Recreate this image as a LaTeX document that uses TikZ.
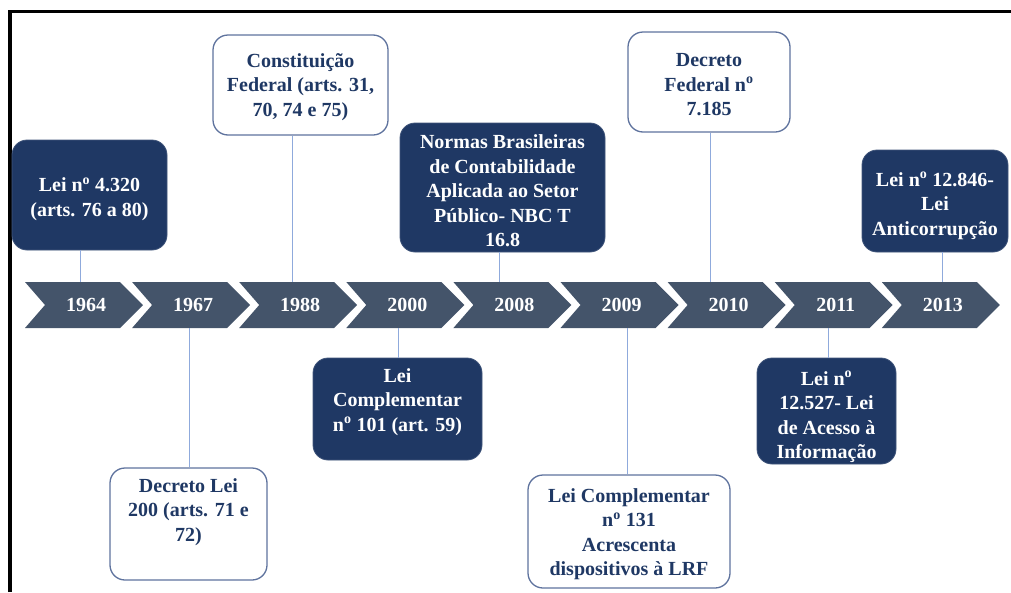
\documentclass[tikz,border=0pt]{standalone}
\usepackage{fontspec}
\setmainfont{Liberation Serif}
\definecolor{chevcol}{RGB}{68,84,106}
\definecolor{navy}{RGB}{31,56,100}
\definecolor{edgecol}{RGB}{95,115,158}
\definecolor{conncol}{RGB}{143,170,220}
\newcommand{\boxfont}{\fontsize{20}{24.5}\selectfont\bfseries}
\newcommand{\no}{n\textsuperscript{o}}
\begin{document}
\begin{tikzpicture}[x=1pt,y=-1pt,
  chevshape/.style={fill=chevcol},
  yearlbl/.style={text=white,font=\boxfont,inner sep=0pt},
  darkbox/.style={fill=navy,draw=navy!85!white,rounded corners=15pt,line width=0.8pt,inner sep=0pt},
  lightbox/.style={fill=white,draw=edgecol,rounded corners=15pt,line width=1.3pt,inner sep=0pt},
  darktxt/.style={text=white,align=center,font=\boxfont,inner sep=0pt},
  lighttxt/.style={text=navy,align=center,font=\boxfont,inner sep=0pt},
  connline/.style={draw=conncol,line width=0.9pt}]
\useasboundingbox (0,0) rectangle (1011,592);
% frame
\draw[line width=3.3pt] (10,592) -- (10,11.7) -- (1011,11.7);
% chevrons
\foreach \i/\yr in {0/1964,1/1967,2/1988,3/2000,4/2008,5/2009,6/2010,7/2011,8/2013}{
  \pgfmathsetmacro{\s}{25+107.1*\i}
  \fill[chevshape] (\s,282) -- ++(95,0) -- ++(23,23) -- ++(-23,23) -- ++(-95,0) -- ++(20,-23) -- cycle;
  \node[yearlbl] (y\yr) at (\s+61,305) {\yr};
}
% boxes
\node[darkbox,minimum width=155pt,minimum height=110pt] (b1) at (89.5,195) {};
\node[darktxt] (t1) at (89.5,199) {Lei \no{} 4.320\\(arts. 76 a 80)};
\node[lightbox,minimum width=175pt,minimum height=100pt] (b2) at (300.5,85) {};
\node[lighttxt] (t2) at (300.5,87) {Constituição\\Federal (arts. 31,\\70, 74 e 75)};
\node[darkbox,minimum width=205pt,minimum height=129pt] (b3) at (502.5,187.5) {};
\node[darktxt] (t3) at (502.5,191) {Normas Brasileiras\\de Contabilidade\\Aplicada ao Setor\\Público- NBC T\\16.8};
\node[lightbox,minimum width=162pt,minimum height=100pt] (b4) at (709,82) {};
\node[lighttxt] (t4) at (709,85) {Decreto\\Federal \no\\7.185};
\node[darkbox,minimum width=146pt,minimum height=102pt] (b5) at (935,201) {};
\node[darktxt] (t5) at (935,206) {Lei \no{} 12.846-\\Lei\\Anticorrupção};
\node[lightbox,minimum width=157pt,minimum height=112pt] (b6) at (188.5,524) {};
\node[lighttxt] (t6) at (188.5,512) {Decreto Lei\\200 (arts. 71 e\\72)};
\node[darkbox,minimum width=169pt,minimum height=102pt] (b7) at (397.5,409) {};
\node[darktxt] (t7) at (397.5,402) {Lei\\Complementar\\\no{} 101 (art. 59)};
\node[lightbox,minimum width=202pt,minimum height=113pt] (b8) at (629,531.5) {};
\node[lighttxt] (t8) at (629,534) {Lei Complementar\\\no{} 131\\Acrescenta\\dispositivos à LRF};
\node[darkbox,minimum width=139pt,minimum height=106pt] (b9) at (826.5,411) {};
\node[darktxt] (t9) at (826.5,417) {Lei \no\\12.527- Lei\\de Acesso à\\Informação};
% connector anchor points on chevrons
\coordinate (c1) at (80,282);
\coordinate (c2) at (292,282);
\coordinate (c3) at (499,282);
\coordinate (c4) at (710,282);
\coordinate (c5) at (942,282);
\coordinate (c6) at (189,328);
\coordinate (c7) at (398,328);
\coordinate (c8) at (627,328);
\coordinate (c9) at (828,328);
\foreach \k in {1,...,5}{
  \draw[connline] (b\k.south -| c\k) -- (c\k);
}
\foreach \k in {6,...,9}{
  \draw[connline] (b\k.north -| c\k) -- (c\k);
}
\end{tikzpicture}
\end{document}
